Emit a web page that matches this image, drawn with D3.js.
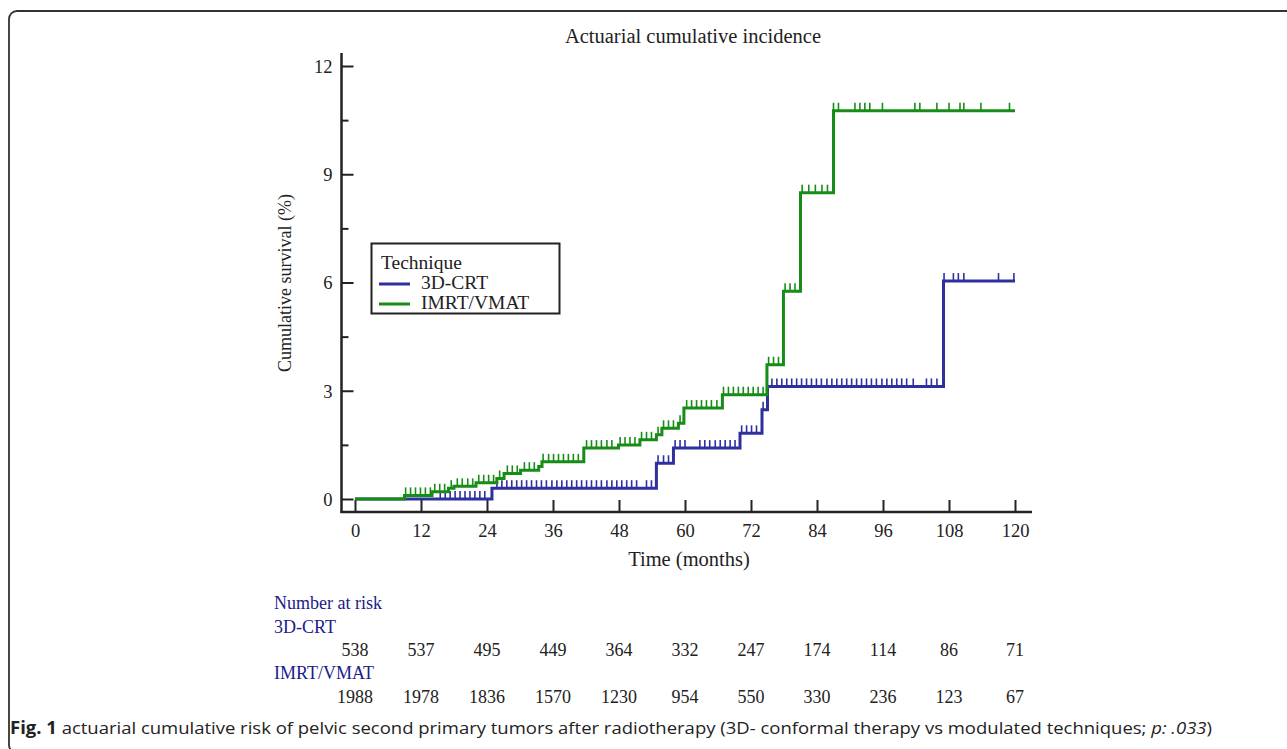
<!DOCTYPE html>
<html><head><meta charset="utf-8">
<script src="https://cdn.jsdelivr.net/npm/d3@7"></script>
<style>body{margin:0;background:#fff;} svg{display:block;}</style>
</head><body>
<svg id="chart" width="1287" height="749"></svg>
<script>
// ---------------- data ----------------
const chartTitle = "Actuarial cumulative incidence";
const xLabel = "Time (months)";
const yLabel = "Cumulative survival (%)";
const legendTitle = "Technique";
const seriesNames = ["3D-CRT", "IMRT/VMAT"];
const xTicks = [0, 12, 24, 36, 48, 60, 72, 84, 96, 108, 120];
const yTicks = [0, 3, 6, 9, 12];
const yMinorTicks = [1.5, 4.5, 7.5, 10.5];

// step functions (time in months, cumulative incidence in %)
const crtStepTimes  = [0, 24.9, 54.8, 57.9, 70, 74, 75, 107];
const crtStepValues = [0, 0.3, 0.99, 1.41, 1.82, 2.47, 3.12, 6.04];
const imrtStepTimes  = [0, 9, 14, 17, 18, 22, 25.8, 27.1, 30.1, 33.4, 34, 41.6, 47.9, 51.8, 54.8, 55.8, 58.8, 59.8, 66.8, 74.9, 77.9, 81, 87];
const imrtStepValues = [0, 0.1, 0.2, 0.3, 0.35, 0.45, 0.57, 0.71, 0.8, 0.9, 1.03, 1.41, 1.5, 1.64, 1.78, 1.96, 2.1, 2.52, 2.89, 3.72, 5.76, 8.49, 10.76];

// censored observations (months)
const crtCensor = [15.5, 16.4, 17.3, 18.2, 19.1, 20.0, 20.9, 21.8, 22.7, 23.6,
  25.8, 26.7, 27.6, 28.5, 29.4, 30.3, 31.2, 32.1, 33.0, 33.9, 34.8, 35.8, 36.7, 37.6, 38.5, 39.4, 40.3, 41.2, 42.1, 43.0, 43.9, 44.8, 45.8, 46.7, 47.6, 48.5, 49.4, 50.3, 51.2, 53.0, 53.9,
  55.1, 56.1, 57.0,
  58.2, 59.1, 60.0, 62.7, 63.6, 64.5, 65.5, 66.4, 67.3, 68.2, 69.1,
  70.3, 71.2, 72.1, 73.0, 74.2,
  75.8, 76.7, 77.6, 78.5, 79.4, 80.3, 81.2, 82.1, 83.0, 83.9, 84.8, 85.8, 86.7, 87.6, 88.5, 89.4, 90.3, 91.2, 92.1, 93.0, 93.9, 94.8, 95.8, 96.7, 97.6, 98.5, 99.4, 100.3, 101.5, 103.9, 104.8, 105.8,
  107.1, 108.8, 109.7, 110.7, 117.0, 119.8];
const imrtCensor = [9.2, 10.1, 11.0, 11.9, 12.8, 13.7, 14.5, 15.4, 16.3, 17.5, 18.6, 19.5, 20.5, 21.4,
  22.5, 23.4, 24.3, 25.2, 26.3, 27.7, 28.6, 29.5, 30.8, 31.7, 32.6,
  34.2, 35.2, 36.1, 37.0, 37.9, 38.8, 39.7, 40.6,
  42.1, 43.0, 43.9, 44.8, 45.8, 46.7, 48.2, 49.1, 50.0, 50.9, 52.1, 53.0, 53.9, 55.1, 56.1, 57.0, 57.9, 59.1,
  60.3, 61.2, 62.1, 63.0, 63.9, 64.8, 65.8,
  67.0, 67.9, 68.8, 69.7, 70.6, 71.5, 72.4, 73.3, 74.2,
  75.2, 76.1, 77.0, 78.2, 79.1, 80.0, 81.3, 82.5, 83.7, 84.9, 85.9,
  87.0, 87.9, 90.9, 91.8, 92.7, 93.6, 95.9, 101.8, 102.7, 105.8, 108.0, 110.0, 110.7, 113.8, 119.0];
const riskLabel = "Number at risk";
const crtAtRisk  = [538, 537, 495, 449, 364, 332, 247, 174, 114, 86, 71];
const imrtAtRisk = [1988, 1978, 1836, 1570, 1230, 954, 550, 330, 236, 123, 67];
const captionBold = "Fig. 1";
const captionText = " actuarial cumulative risk of pelvic second primary tumors after radiotherapy (3D- conformal therapy vs modulated techniques; ";
const captionItalic = "p: .033";
const captionEnd = ")";

// ---------------- drawing ----------------
const svg = d3.select("#chart");
const serif = "'Liberation Serif','Times New Roman',serif";
const ink = "#222";
const blue = "#2f2f9e";
const green = "#178c17";
const textBlue = "#20208c";

// frame
svg.append("rect").attr("x", 9).attr("y", 11).attr("width", 1300).attr("height", 742)
  .attr("rx", 8).attr("fill", "none").attr("stroke", "#333").attr("stroke-width", 1.8);

const x = d3.scaleLinear().domain([0, 120]).range([355, 1015]);
const y = d3.scaleLinear().domain([0, 12]).range([499, 66]);
const axisY0 = 512, axisX0 = 341.5;

// title
svg.append("text").attr("x", 693).attr("y", 43).attr("text-anchor", "middle")
  .attr("font-family", serif).attr("font-size", 20.5).attr("fill", ink).text(chartTitle);

// x axis
const gx = svg.append("g").attr("transform", `translate(0,${axisY0})`)
  .call(d3.axisBottom(x).tickValues(xTicks).tickSize(-12).tickSizeOuter(0));
gx.select(".domain").remove();
gx.selectAll(".tick line").attr("stroke", ink).attr("stroke-width", 2);
gx.selectAll(".tick text").attr("y", 25).attr("dy", 0)
  .attr("font-family", serif).attr("font-size", 18.5).attr("fill", ink);
svg.append("line").attr("x1", axisX0 - 1).attr("x2", 1032).attr("y1", axisY0).attr("y2", axisY0)
  .attr("stroke", ink).attr("stroke-width", 2.5);

// y axis
const gy = svg.append("g").attr("transform", `translate(${axisX0},0)`)
  .call(d3.axisLeft(y).tickValues(yTicks).tickSize(-12).tickSizeOuter(0).tickPadding(9));
gy.select(".domain").remove();
gy.selectAll(".tick line").attr("stroke", ink).attr("stroke-width", 2);
gy.selectAll(".tick text").attr("font-family", serif).attr("font-size", 18.5).attr("fill", ink).attr("dy", "0.34em");
const gyMinor = svg.append("g").attr("transform", `translate(${axisX0},0)`)
  .call(d3.axisLeft(y).tickValues(yMinorTicks).tickSize(-7).tickSizeOuter(0).tickFormat(""));
gyMinor.select(".domain").remove();
gyMinor.selectAll(".tick line").attr("stroke", ink).attr("stroke-width", 2);
svg.append("line").attr("x1", axisX0).attr("x2", axisX0).attr("y1", 53).attr("y2", axisY0 + 1)
  .attr("stroke", ink).attr("stroke-width", 2.5);

// axis titles
svg.append("text").attr("x", 689).attr("y", 566).attr("text-anchor", "middle")
  .attr("font-family", serif).attr("font-size", 20.5).attr("fill", ink).text(xLabel);
svg.append("text").attr("transform", "translate(291,283) rotate(-90)").attr("text-anchor", "middle")
  .attr("font-family", serif).attr("font-size", 18).attr("fill", ink).text(yLabel);

// curves
function stepValueAt(times, values, t) {
  let v = values[0];
  for (let i = 0; i < times.length; i++) if (times[i] <= t) v = values[i];
  return v;
}
const line = d3.line().x(d => x(d[0])).y(d => y(d[1])).curve(d3.curveStepAfter);
const series = [
  {times: crtStepTimes, values: crtStepValues, censor: crtCensor, color: blue},
  {times: imrtStepTimes, values: imrtStepValues, censor: imrtCensor, color: green}
];
series.forEach(s => {
  const pts = s.times.map((t, i) => [t, s.values[i]]);
  pts.push([120, s.values[s.values.length - 1]]);
  svg.append("path").datum(pts).attr("d", line).attr("fill", "none")
    .attr("stroke", s.color).attr("stroke-width", 3);
  svg.append("g").selectAll("line").data(s.censor).join("line")
    .attr("x1", d => x(d)).attr("x2", d => x(d))
    .attr("y1", d => y(stepValueAt(s.times, s.values, d)))
    .attr("y2", d => y(stepValueAt(s.times, s.values, d)) - 8)
    .attr("stroke", s.color).attr("stroke-width", 1.6);
});

// legend
const lg = svg.append("g");
lg.append("rect").attr("x", 371.5).attr("y", 243.5).attr("width", 188).attr("height", 70)
  .attr("fill", "#fff").attr("stroke", ink).attr("stroke-width", 2);
lg.append("text").attr("x", 381).attr("y", 269).attr("font-family", serif).attr("font-size", 19.5)
  .attr("fill", ink).text(legendTitle);
[blue, green].forEach((c, i) => {
  const by = 289 + i * 20;
  lg.append("line").attr("x1", 379).attr("x2", 410).attr("y1", by - 5).attr("y2", by - 5)
    .attr("stroke", c).attr("stroke-width", 3);
  lg.append("text").attr("x", 421).attr("y", by).attr("font-family", serif).attr("font-size", 19.5)
    .attr("fill", ink).text(seriesNames[i]);
});

// number at risk table
const tbl = svg.append("g").attr("font-family", serif).attr("font-size", 18);
tbl.append("text").attr("x", 274).attr("y", 609).attr("fill", textBlue).text(riskLabel);
tbl.append("text").attr("x", 274).attr("y", 633).attr("fill", textBlue).text(seriesNames[0]);
tbl.append("text").attr("x", 274).attr("y", 679).attr("fill", textBlue).text(seriesNames[1]);
tbl.append("g").selectAll("text").data(crtAtRisk).join("text")
  .attr("x", (d, i) => x(xTicks[i])).attr("y", 656).attr("text-anchor", "middle")
  .attr("fill", ink).text(d => d);
tbl.append("g").selectAll("text").data(imrtAtRisk).join("text")
  .attr("x", (d, i) => x(xTicks[i])).attr("y", 703).attr("text-anchor", "middle")
  .attr("fill", ink).text(d => d);

// caption
const cap = svg.append("text").attr("x", 10).attr("y", 734)
  .attr("font-family", "'Open Sans','Liberation Sans',sans-serif")
  .attr("font-size", 17).attr("fill", "#222")
  .attr("textLength", 1202).attr("lengthAdjust", "spacingAndGlyphs");
cap.append("tspan").attr("font-weight", "bold").text(captionBold);
cap.append("tspan").text(captionText);
cap.append("tspan").attr("font-style", "italic").text(captionItalic);
cap.append("tspan").text(captionEnd);
</script>
</body></html>
